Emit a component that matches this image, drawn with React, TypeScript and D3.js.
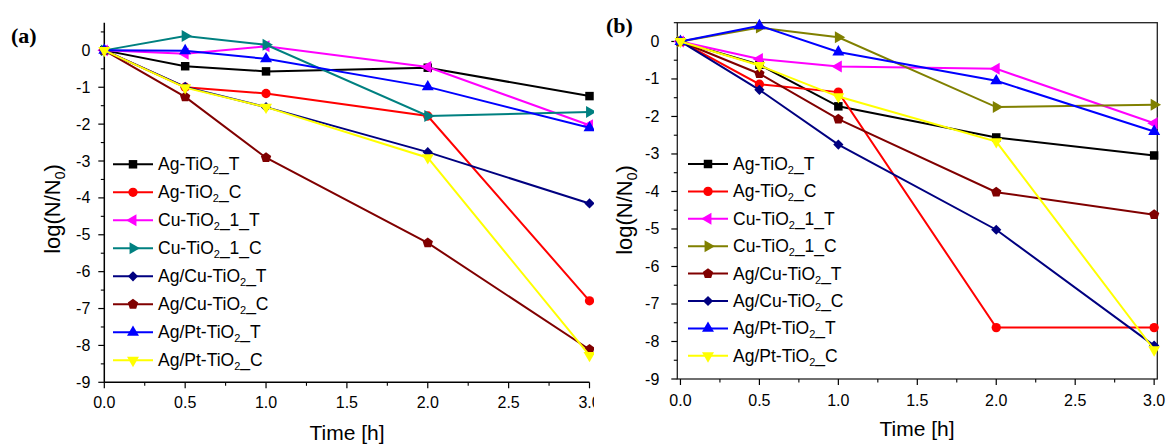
import React from "react";
import * as d3 from "d3";

// ---------- DATA ----------
const timeH = [0, 0.5, 1, 2, 3];
const seriesLabels = [
  "Ag-TiO2_T",
  "Ag-TiO2_C",
  "Cu-TiO2_1_T",
  "Cu-TiO2_1_C",
  "Ag/Cu-TiO2_T",
  "Ag/Cu-TiO2_C",
  "Ag/Pt-TiO2_T",
  "Ag/Pt-TiO2_C",
];

// panel (a)
const a_AgTiO2_T = [0, -0.43, -0.57, -0.47, -1.24];
const a_AgTiO2_C = [0, -1.0, -1.17, -1.78, -6.79];
const a_CuTiO2_1_T = [0, -0.09, 0.11, -0.45, -2.03];
const a_CuTiO2_1_C = [0, 0.39, 0.15, -1.78, -1.67];
const a_AgCuTiO2_T = [0, -0.99, -1.54, -2.76, -4.15];
const a_AgCuTiO2_C = [0, -1.26, -2.91, -5.22, -8.11];
const a_AgPtTiO2_T = [0, -0.01, -0.23, -0.99, -2.1];
const a_AgPtTiO2_C = [0, -1.01, -1.54, -2.91, -8.27];

// panel (b)
const b_AgTiO2_T = [0, -0.62, -1.73, -2.56, -3.04];
const b_AgTiO2_C = [0, -1.14, -1.35, -7.63, -7.63];
const b_CuTiO2_1_T = [0, -0.47, -0.67, -0.73, -2.18];
const b_CuTiO2_1_C = [0, 0.37, 0.11, -1.75, -1.69];
const b_AgCuTiO2_T = [0, -0.86, -2.07, -4.02, -4.62];
const b_AgCuTiO2_C = [0, -1.29, -2.75, -5.02, -8.11];
const b_AgPtTiO2_T = [0, 0.42, -0.28, -1.05, -2.4];
const b_AgPtTiO2_C = [0, -0.64, -1.47, -2.67, -8.22];

const xTicks = [0, 0.5, 1, 1.5, 2, 2.5, 3];
const yTicks = [-9, -8, -7, -6, -5, -4, -3, -2, -1, 0];

// ---------- STYLES ----------
const colorsA = ["#000000", "#ff0000", "#ff00ff", "#008080", "#000080", "#800000", "#0000ff", "#ffff00"];
const markersA = ["square", "circle", "left", "right", "diamond", "pentagon", "up", "down"];
const colorsB = ["#000000", "#ff0000", "#ff00ff", "#808000", "#800000", "#000080", "#0000ff", "#ffff00"];
const markersB = ["square", "circle", "left", "right", "pentagon", "diamond", "up", "down"];

const SANS = "'Liberation Sans', Arial, Helvetica, sans-serif";

const pentagonType = {
  draw(context: any, size: number) {
    const r = Math.sqrt(size / 2.378);
    for (let i = 0; i < 5; i++) {
      const ang = -Math.PI / 2 + (i * 2 * Math.PI) / 5;
      const px = r * Math.cos(ang);
      const py = r * Math.sin(ang);
      if (i === 0) context.moveTo(px, py);
      else context.lineTo(px, py);
    }
    context.closePath();
  },
};

function markerPath(kind: string): { d: string; rot: number } {
  switch (kind) {
    case "square":
      return { d: d3.symbol().type(d3.symbolSquare).size(72)() as string, rot: 0 };
    case "circle":
      return { d: d3.symbol().type(d3.symbolCircle).size(68)() as string, rot: 0 };
    case "diamond":
      return { d: d3.symbol().type(d3.symbolSquare).size(52)() as string, rot: 45 };
    case "pentagon":
      return { d: d3.symbol().type(pentagonType as any).size(70)() as string, rot: 0 };
    case "up":
      return { d: d3.symbol().type(d3.symbolTriangle).size(62)() as string, rot: 0 };
    case "down":
      return { d: d3.symbol().type(d3.symbolTriangle).size(62)() as string, rot: 180 };
    case "left":
      return { d: d3.symbol().type(d3.symbolTriangle).size(62)() as string, rot: -90 };
    case "right":
      return { d: d3.symbol().type(d3.symbolTriangle).size(62)() as string, rot: 90 };
  }
  return { d: "", rot: 0 };
}

function Marker({ kind, x, y, color }: { kind: string; x: number; y: number; color: string }) {
  const m = markerPath(kind);
  return <path d={m.d} transform={`translate(${x},${y}) rotate(${m.rot})`} fill={color} stroke="none" />;
}

function LegendText({ label, x, y }: { label: string; x: number; y: number }) {
  const parts = label.split("TiO2");
  return (
    <text x={x} y={y} fontFamily={SANS} fontSize={17.5} fill="#000">
      {parts[0]}TiO
      <tspan dy={4} fontSize={11}>2</tspan>
      <tspan dy={-4}>{parts[1]}</tspan>
    </text>
  );
}

type PanelCfg = {
  id: string;
  title: string;
  titleX: number;
  titleY: number;
  series: number[][];
  colors: string[];
  markers: string[];
  xDomain: [number, number];
  xRange: [number, number];
  yDomain: [number, number];
  yRange: [number, number];
  frame: boolean;
  clipRight?: number;
  legX0: number;
  legX1: number;
  legText: number;
  legY0: number;
  legDy: number;
  yLabelX: number;
  yLabelY: number;
  xLabelX: number;
  xLabelY: number;
  yTickGap: number;
  xTickBaseline: number;
};

function Panel({ cfg }: { cfg: PanelCfg }) {
  const x = d3.scaleLinear().domain(cfg.xDomain).range(cfg.xRange);
  const y = d3.scaleLinear().domain(cfg.yDomain).range(cfg.yRange);
  const x0 = cfg.xRange[0];
  const x1 = cfg.xRange[1];
  const yBot = cfg.yRange[0];
  const yTop = cfg.yRange[1];
  const line = d3
    .line<number>()
    .x((_, i) => x(timeH[i]))
    .y((v) => y(v));

  const yMinor = d3.range(cfg.yDomain[0], cfg.yDomain[1] + 0.001, 0.5).filter((v) => !yTicks.includes(v));
  const xMinor = d3.range(0, 3.001, 0.25).filter((v) => !xTicks.includes(v));
  const fmtX = d3.format(".1f");

  const clipId = `clip-${cfg.id}`;
  const content = (
    <g>
      {cfg.frame ? (
        <rect x={x0} y={yTop} width={x1 - x0} height={yBot - yTop} fill="none" stroke="#222" strokeWidth={1.3} />
      ) : (
        <g>
          <line x1={x0} x2={x0} y1={yTop} y2={yBot} stroke="#000" strokeWidth={1.5} />
          <line x1={x0} x2={x1} y1={yBot} y2={yBot} stroke="#000" strokeWidth={1.5} />
        </g>
      )}
      {yTicks.map((t) => (
        <g key={`yt${t}`}>
          <line x1={x0 - 6} x2={x0} y1={y(t)} y2={y(t)} stroke="#000" strokeWidth={1.2} />
          <text x={x0 - cfg.yTickGap} y={y(t) + 5.5} textAnchor="end" fontFamily={SANS} fontSize={16} fill="#000">
            {String(t)}
          </text>
        </g>
      ))}
      {yMinor.map((t) => (
        <line key={`ym${t}`} x1={x0 - 3.5} x2={x0} y1={y(t)} y2={y(t)} stroke="#000" strokeWidth={1.1} />
      ))}
      {xTicks.map((t) => (
        <g key={`xt${t}`}>
          <line x1={x(t)} x2={x(t)} y1={yBot} y2={yBot + 6} stroke="#000" strokeWidth={1.2} />
          <text x={x(t)} y={cfg.xTickBaseline} textAnchor="middle" fontFamily={SANS} fontSize={16} fill="#000">
            {fmtX(t)}
          </text>
        </g>
      ))}
      {xMinor.map((t) => (
        <line key={`xm${t}`} x1={x(t)} x2={x(t)} y1={yBot} y2={yBot + 3.5} stroke="#000" strokeWidth={1.1} />
      ))}
      {cfg.series.map((vals, si) => (
        <g key={`s${si}`}>
          <path d={line(vals) as string} fill="none" stroke={cfg.colors[si]} strokeWidth={2} />
          {vals.map((v, i) => (
            <Marker key={i} kind={cfg.markers[si]} x={x(timeH[i])} y={y(v)} color={cfg.colors[si]} />
          ))}
        </g>
      ))}
      {seriesLabels.map((lab, si) => {
        const ly = cfg.legY0 + si * cfg.legDy;
        return (
          <g key={`l${si}`}>
            <line x1={cfg.legX0} x2={cfg.legX1} y1={ly} y2={ly} stroke={cfg.colors[si]} strokeWidth={2} />
            <Marker kind={cfg.markers[si]} x={(cfg.legX0 + cfg.legX1) / 2} y={ly} color={cfg.colors[si]} />
            <LegendText label={lab} x={cfg.legText} y={ly + 6} />
          </g>
        );
      })}
    </g>
  );

  return (
    <g>
      {cfg.clipRight !== undefined && (
        <defs>
          <clipPath id={clipId}>
            <rect x={0} y={0} width={cfg.clipRight} height={445} />
          </clipPath>
        </defs>
      )}
      <g clipPath={cfg.clipRight !== undefined ? `url(#${clipId})` : undefined}>{content}</g>
      <text x={cfg.titleX} y={cfg.titleY} fontFamily="'Liberation Serif', 'Times New Roman', serif" fontWeight="bold" fontSize={22} fill="#000">
        ({cfg.title})
      </text>
      <text
        transform={`translate(${cfg.yLabelX},${cfg.yLabelY}) rotate(-90)`}
        textAnchor="middle"
        fontFamily={SANS}
        fontSize={22}
        fill="#000"
      >
        log(N/N<tspan dy={5} fontSize={14}>0</tspan>
        <tspan dy={-5}>)</tspan>
      </text>
      <text x={cfg.xLabelX} y={cfg.xLabelY} textAnchor="middle" fontFamily={SANS} fontSize={21} fill="#000">
        Time [h]
      </text>
    </g>
  );
}

const panelA: PanelCfg = {
  id: "a",
  title: "a",
  titleX: 11,
  titleY: 43,
  series: [a_AgTiO2_T, a_AgTiO2_C, a_CuTiO2_1_T, a_CuTiO2_1_C, a_AgCuTiO2_T, a_AgCuTiO2_C, a_AgPtTiO2_T, a_AgPtTiO2_C],
  colors: colorsA,
  markers: markersA,
  xDomain: [0, 3],
  xRange: [104.3, 589.5],
  yDomain: [-9, 0.75],
  yRange: [382.3, 22.7],
  frame: false,
  clipRight: 594,
  legX0: 113,
  legX1: 153,
  legText: 158,
  legY0: 164.3,
  legDy: 28,
  yLabelX: 60,
  yLabelY: 209,
  xLabelX: 347,
  xLabelY: 440,
  yTickGap: 14,
  xTickBaseline: 408,
};

const panelB: PanelCfg = {
  id: "b",
  title: "b",
  titleX: 606,
  titleY: 33,
  series: [b_AgTiO2_T, b_AgTiO2_C, b_CuTiO2_1_T, b_CuTiO2_1_C, b_AgCuTiO2_T, b_AgCuTiO2_C, b_AgPtTiO2_T, b_AgPtTiO2_C],
  colors: colorsB,
  markers: markersB,
  xDomain: [-0.02, 3.02],
  xRange: [677.3, 1157.3],
  yDomain: [-9, 0.5],
  yRange: [379, 22.7],
  frame: true,
  legX0: 688,
  legX1: 728,
  legText: 733,
  legY0: 164,
  legDy: 27.4,
  yLabelX: 632,
  yLabelY: 210,
  xLabelX: 917,
  xLabelY: 436,
  yTickGap: 18,
  xTickBaseline: 406,
};

export default function App() {
  return (
    <svg
      width={1166}
      height={445}
      viewBox="0 0 1166 445"
      style={{ position: "absolute", left: 0, top: 0, background: "#fff" }}
    >
      <rect x={0} y={0} width={1166} height={445} fill="#fff" />
      <Panel cfg={panelA} />
      <Panel cfg={panelB} />
    </svg>
  );
}
